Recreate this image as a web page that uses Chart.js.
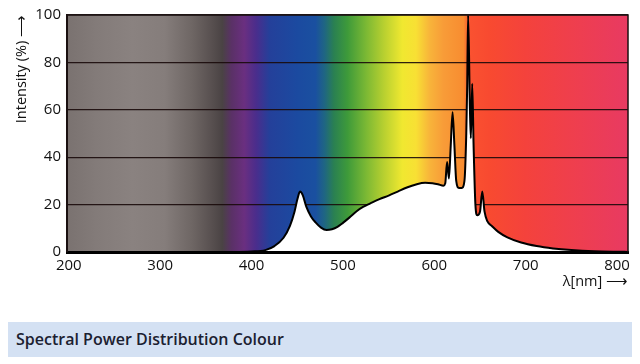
<!DOCTYPE html>
<html>
<head>
<meta charset="utf-8">
<script src="https://cdn.jsdelivr.net/npm/chart.js@4"></script>
<style>
  body { margin: 0; background: #fff; }
  #wrap { position: relative; width: 640px; height: 296px; }
  #band {
    position: absolute; left: 8px; top: 322px; width: 616px; height: 35px;
    padding-left: 8px; background: #d4e1f3; color: #1b2030;
    font: 600 16px 'Open Sans', sans-serif; line-height: 35px;
  }
</style>
</head>
<body>
<div id="wrap"><canvas id="spdChart"></canvas></div>
<div id="band">Spectral Power Distribution Colour</div>
<script>
// wavelength in nm and relative intensity in %
const wavelength = [200, 380, 400, 415, 425, 435, 442, 447, 450, 453, 456, 460, 465, 470, 476, 482, 488, 494,
  500, 507, 515, 522, 530, 540, 550, 560, 570, 580, 590, 598, 604, 610, 612, 614, 616, 618, 620, 622, 624,
  627, 630, 633, 635, 636, 637, 639, 640, 641.5, 643, 645, 647, 650, 652.5, 655, 658, 663, 670, 680, 695,
  712, 730, 750, 775, 800, 812];
const intensity = [0, 0, 0.2, 0.8, 2.5, 6, 11, 17, 22, 25.5, 24, 19, 15, 12.5, 10.3, 9.3, 9.6, 10.6,
  12.3, 14.5, 17.2, 19, 20.5, 22.3, 23.8, 25.5, 27.2, 28.5, 29.2, 29, 28.6, 28, 29, 38, 31, 45, 59, 45, 30,
  27, 27, 30, 50, 70, 100, 60, 48, 71, 45, 20, 15.5, 17, 25.5, 17, 13, 11, 8.5, 6.2, 4,
  2.5, 1.5, 0.8, 0.3, 0.1, 0.05];
const xTicks = [200, 300, 400, 500, 600, 700, 800];
const yTicks = [0, 20, 40, 60, 80, 100];

// colour of the spectrum behind the curve
const bgStops = [
  [198, '#7a7270'], [230, '#837b79'], [270, '#8a8280'], [305, '#857d7b'], [335, '#6e6664'],
  [358, '#564e4e'], [368, '#4a4344'], [378, '#5a3166'], [392, '#6a2f80'], [405, '#4a2d8c'],
  [420, '#24409a'], [450, '#1b4aa0'], [470, '#1a50a0'], [480, '#1f6682'], [490, '#2a8052'],
  [505, '#3e9a3a'], [525, '#7ab834'], [545, '#b8d030'], [565, '#f0e830'], [580, '#f8e034'],
  [595, '#f8b43a'], [610, '#f89c38'], [632, '#f88c30'], [638, '#fa5230'], [660, '#f84a30'],
  [700, '#f4423c'], [760, '#ee3e50'], [812, '#e83a62']
];

const spectrumBg = {
  id: 'spectrumBg',
  beforeDraw(chart) {
    const { ctx, chartArea: a, scales: { x } } = chart;
    const g = ctx.createLinearGradient(a.left, 0, a.right, 0);
    bgStops.forEach(([nm, c]) => {
      let t = (x.getPixelForValue(nm) - a.left) / (a.right - a.left);
      g.addColorStop(Math.min(1, Math.max(0, t)), c);
    });
    ctx.save();
    ctx.fillStyle = g;
    ctx.fillRect(a.left, a.top, a.right - a.left, a.bottom - a.top);
    ctx.restore();
  }
};

const frame = {
  id: 'frame',
  afterDraw(chart) {
    const { ctx, chartArea: a } = chart;
    ctx.save();
    ctx.strokeStyle = '#1a1010';
    ctx.lineWidth = 1.5;
    ctx.beginPath();
    ctx.moveTo(a.left, a.top);
    ctx.lineTo(a.right, a.top);
    ctx.lineTo(a.right, a.bottom);
    ctx.stroke();
    ctx.restore();
  }
};

const tickFont = { family: "'Open Sans', sans-serif", size: 15 };
const titleFont = { family: "'Open Sans', sans-serif", size: 14.5 };

new Chart(document.getElementById('spdChart'), {
  type: 'line',
  data: {
    datasets: [{
      data: wavelength.map((w, i) => ({ x: w, y: intensity[i] })),
      borderColor: '#000',
      borderWidth: 2,
      backgroundColor: '#fff',
      fill: 'origin',
      pointRadius: 0,
      cubicInterpolationMode: 'monotone'
    }]
  },
  options: {
    responsive: true,
    maintainAspectRatio: false,
    animation: false,
    layout: { padding: { top: 10, right: 12, left: 0, bottom: 0 } },
    plugins: { legend: { display: false }, tooltip: { enabled: false } },
    scales: {
      x: {
        type: 'linear',
        min: 198,
        max: 812,
        afterBuildTicks: s => { s.ticks = xTicks.map(v => ({ value: v })); },
        afterFit: s => { s.height = 44; },
        ticks: { font: tickFont, color: '#111', padding: 5, maxRotation: 0 },
        grid: { display: false, drawTicks: false },
        border: { display: true, color: '#000', width: 3, z: 1 },
        title: { display: true, text: 'λ[nm] ⟶', align: 'end', font: titleFont, color: '#111', padding: { top: 0, bottom: 5 } }
      },
      y: {
        min: 0,
        max: 100,
        afterBuildTicks: s => { s.ticks = yTicks.map(v => ({ value: v })); },
        afterFit: s => { s.width = 67; },
        ticks: { font: tickFont, color: '#111', padding: 6 },
        grid: { color: 'rgba(25,10,10,0.9)', lineWidth: 1.2, drawTicks: false },
        border: { display: true, color: '#1a1010', width: 2, z: 1 },
        title: { display: true, text: 'Intensity (%) ⟶', align: 'end', font: titleFont, color: '#111', padding: { top: 13, bottom: 0 } }
      }
    }
  },
  plugins: [spectrumBg, frame]
});
</script>
</body>
</html>
